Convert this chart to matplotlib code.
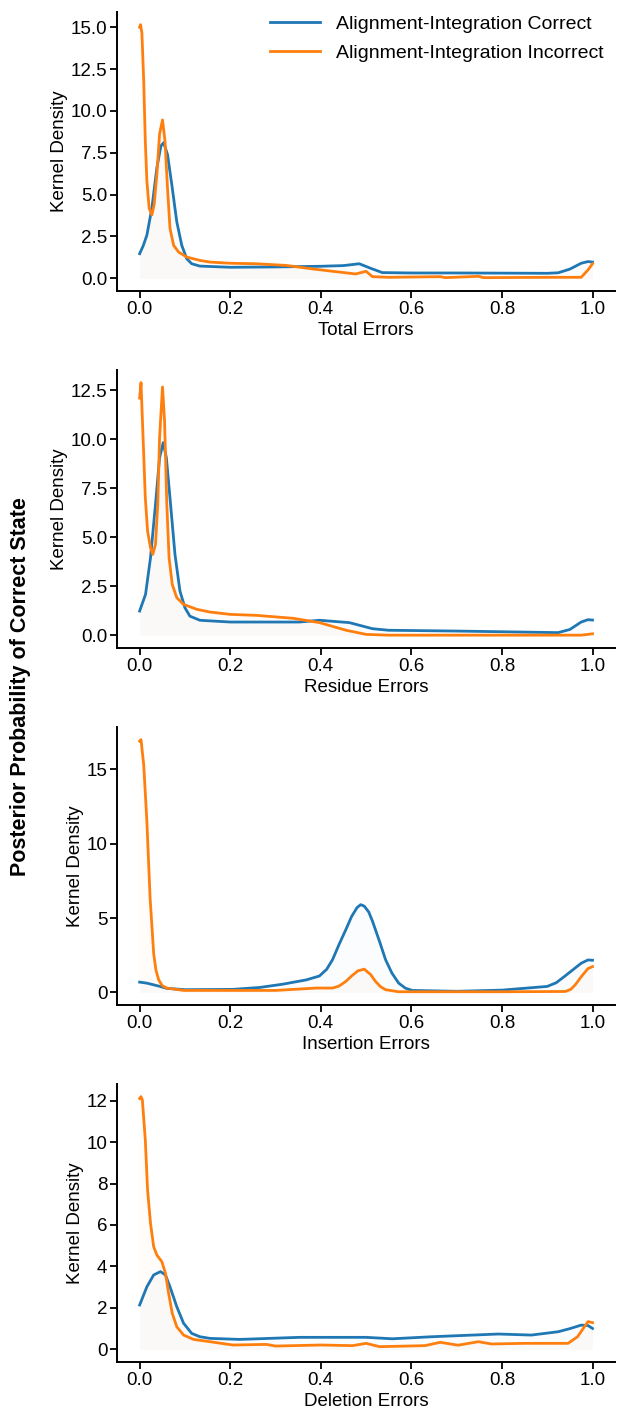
import matplotlib.pyplot as plt
import numpy as np

plt.rcParams['font.family'] = ['Liberation Sans', 'DejaVu Sans']

labels = ['Alignment-Integration Correct', 'Alignment-Integration Incorrect']
colors = ['#1f77b4', '#ff7f0e']
xlabels = ['Total Errors', 'Residue Errors', 'Insertion Errors', 'Deletion Errors']

# panel 1: total errors
total_x_c = [0.0, 0.008, 0.016, 0.027, 0.038, 0.047, 0.053, 0.0615, 0.071, 0.082, 0.093, 0.104, 0.115, 0.133, 0.2, 0.3, 0.4, 0.45, 0.485, 0.51, 0.536, 0.6, 0.7, 0.8, 0.9, 0.924, 0.95, 0.975, 0.99, 1.0]
total_y_c = [1.47, 1.95, 2.58, 4.19, 6.6, 7.91, 8.1, 7.4, 5.6, 3.38, 1.97, 1.17, 0.87, 0.73, 0.66, 0.68, 0.72, 0.76, 0.87, 0.6, 0.34, 0.32, 0.32, 0.31, 0.3, 0.33, 0.55, 0.9, 1.0, 0.97]
total_x_i = [0.0, 0.002, 0.005, 0.009, 0.0125, 0.016, 0.021, 0.027, 0.032, 0.038, 0.044, 0.0505, 0.056, 0.0615, 0.067, 0.075, 0.086, 0.104, 0.133, 0.155, 0.2, 0.258, 0.324, 0.382, 0.426, 0.477, 0.5, 0.514, 0.55, 0.664, 0.675, 0.748, 0.76, 0.9, 0.975, 0.99, 1.0]
total_y_i = [15.0, 15.15, 14.65, 11.8, 8.2, 5.8, 4.19, 3.79, 4.39, 6.2, 8.62, 9.46, 8.2, 5.4, 2.98, 1.97, 1.57, 1.27, 1.07, 0.97, 0.9, 0.87, 0.77, 0.56, 0.42, 0.26, 0.42, 0.1, 0.06, 0.1, 0.04, 0.12, 0.04, 0.06, 0.06, 0.5, 0.87]

# panel 2: residue errors
res_x_c = [0.0, 0.013, 0.024, 0.035, 0.044, 0.052, 0.059, 0.067, 0.078, 0.089, 0.1, 0.111, 0.133, 0.2, 0.353, 0.397, 0.463, 0.514, 0.55, 0.7, 0.924, 0.95, 0.975, 0.99, 1.0]
res_y_c = [1.24, 2.09, 3.96, 6.68, 9.06, 9.83, 9.06, 7.02, 4.13, 2.26, 1.41, 0.98, 0.77, 0.68, 0.68, 0.77, 0.65, 0.34, 0.26, 0.22, 0.14, 0.3, 0.68, 0.8, 0.78]
res_x_i = [0.0, 0.003, 0.009, 0.0125, 0.0175, 0.024, 0.029, 0.035, 0.04, 0.044, 0.0505, 0.055, 0.06, 0.065, 0.072, 0.082, 0.097, 0.126, 0.155, 0.2, 0.258, 0.339, 0.397, 0.456, 0.5, 0.55, 0.8, 0.975, 1.0]
res_y_i = [12.1, 12.89, 9.23, 7.02, 5.32, 4.47, 4.13, 4.64, 6.68, 10.08, 12.67, 10.93, 6.68, 3.96, 2.6, 1.92, 1.58, 1.33, 1.19, 1.07, 1.02, 0.87, 0.65, 0.26, 0.05, 0.01, 0.01, 0.01, 0.08]

# panel 3: insertion errors
ins_x_c = [0.0, 0.016, 0.045, 0.06, 0.1, 0.206, 0.265, 0.316, 0.368, 0.397, 0.413, 0.426, 0.44, 0.455, 0.468, 0.48, 0.488, 0.496, 0.506, 0.514, 0.53, 0.543, 0.557, 0.572, 0.587, 0.602, 0.7, 0.8, 0.9, 0.92, 0.938, 0.958, 0.975, 0.99, 1.0]
ins_y_c = [0.69, 0.62, 0.4, 0.27, 0.18, 0.2, 0.33, 0.55, 0.84, 1.1, 1.55, 2.2, 3.2, 4.2, 5.1, 5.7, 5.9, 5.8, 5.4, 4.8, 3.4, 2.2, 1.3, 0.62, 0.28, 0.13, 0.07, 0.15, 0.4, 0.65, 1.07, 1.55, 1.96, 2.18, 2.16]
ins_x_i = [0.0, 0.003, 0.009, 0.016, 0.023, 0.031, 0.036, 0.042, 0.05, 0.06, 0.097, 0.3, 0.39, 0.426, 0.44, 0.455, 0.468, 0.482, 0.496, 0.51, 0.521, 0.532, 0.543, 0.572, 0.8, 0.94, 0.952, 0.963, 0.975, 0.99, 1.0]
ins_y_i = [16.9, 17.0, 15.3, 11.5, 6.4, 2.6, 1.5, 0.84, 0.45, 0.29, 0.13, 0.13, 0.29, 0.29, 0.42, 0.73, 1.1, 1.45, 1.56, 1.2, 0.73, 0.38, 0.18, 0.04, 0.04, 0.06, 0.2, 0.55, 1.05, 1.6, 1.73]

# panel 4: deletion errors
del_x_c = [0.0, 0.016, 0.031, 0.046, 0.057, 0.067, 0.082, 0.097, 0.115, 0.133, 0.155, 0.221, 0.353, 0.5, 0.558, 0.646, 0.792, 0.865, 0.924, 0.95, 0.975, 0.99, 1.0]
del_y_c = [2.14, 3.02, 3.59, 3.75, 3.59, 3.02, 2.06, 1.26, 0.77, 0.61, 0.53, 0.48, 0.58, 0.58, 0.51, 0.61, 0.74, 0.69, 0.85, 1.0, 1.17, 1.15, 1.01]
del_x_i = [0.0, 0.003, 0.006, 0.0125, 0.0175, 0.024, 0.031, 0.038, 0.049, 0.057, 0.064, 0.072, 0.082, 0.097, 0.119, 0.155, 0.206, 0.28, 0.3, 0.4, 0.47, 0.5, 0.53, 0.63, 0.664, 0.703, 0.748, 0.777, 0.85, 0.946, 0.967, 0.99, 1.0]
del_y_i = [12.1, 12.19, 12.03, 10.1, 7.69, 6.08, 4.95, 4.55, 4.23, 3.67, 2.7, 1.74, 1.09, 0.69, 0.48, 0.37, 0.21, 0.24, 0.16, 0.21, 0.18, 0.29, 0.13, 0.18, 0.34, 0.2, 0.37, 0.26, 0.29, 0.29, 0.61, 1.34, 1.29]

panels = [
    [(total_x_c, total_y_c), (total_x_i, total_y_i)],
    [(res_x_c, res_y_c), (res_x_i, res_y_i)],
    [(ins_x_c, ins_y_c), (ins_x_i, ins_y_i)],
    [(del_x_c, del_y_c), (del_x_i, del_y_i)],
]
yticks = [
    [0, 2.5, 5, 7.5, 10, 12.5, 15],
    [0, 2.5, 5, 7.5, 10, 12.5],
    [0, 5, 10, 15],
    [0, 2, 4, 6, 8, 10, 12],
]
yfmt = ['{:.1f}', '{:.1f}', '{:.0f}', '{:.0f}']


def main():
    fig = plt.figure(figsize=(6.17, 14.16), dpi=100)
    W, H = 617, 1416
    spans = [(12, 291), (370, 648), (727, 1005), (1084, 1362)]

    for k, (top, bottom) in enumerate(spans):
        ax = fig.add_axes([117 / W, 1 - bottom / H, 0.997 - 117 / W, (bottom - top) / H])
        for (xs, ys), lab, col in zip(panels[k], labels, colors):
            ax.plot(xs, ys, color=col, lw=2, label=lab, solid_joinstyle='round')
            ax.fill_between(xs, 0, ys, color=col, alpha=0.02, lw=0)
        ax.set_xlabel(xlabels[k], fontsize=13.5, labelpad=3)
        ax.set_ylabel('Kernel Density', fontsize=13.5, labelpad=2)
        ax.set_xticks([0.0, 0.2, 0.4, 0.6, 0.8, 1.0])
        ax.set_yticks(yticks[k])
        ax.set_yticklabels([yfmt[k].format(v) for v in yticks[k]])
        ax.tick_params(labelsize=13.5, width=1.3, length=5, pad=2)
        for s in ['top', 'right']:
            ax.spines[s].set_visible(False)
        for s in ['left', 'bottom']:
            ax.spines[s].set_linewidth(1.4)
        if k == 0:
            ax.legend(loc='upper right', frameon=False, fontsize=14,
                      bbox_to_anchor=(1.0, 1.03), handlelength=2.6,
                      labelspacing=0.6, borderaxespad=0.2)

    fig.text(0.034, 1 - 687 / H, 'Posterior Probability of Correct State', rotation=90,
             va='center', ha='center', fontsize=15.5, fontweight='bold')

    fig.savefig('out.png', dpi=100)


if __name__ == '__main__':
    main()
